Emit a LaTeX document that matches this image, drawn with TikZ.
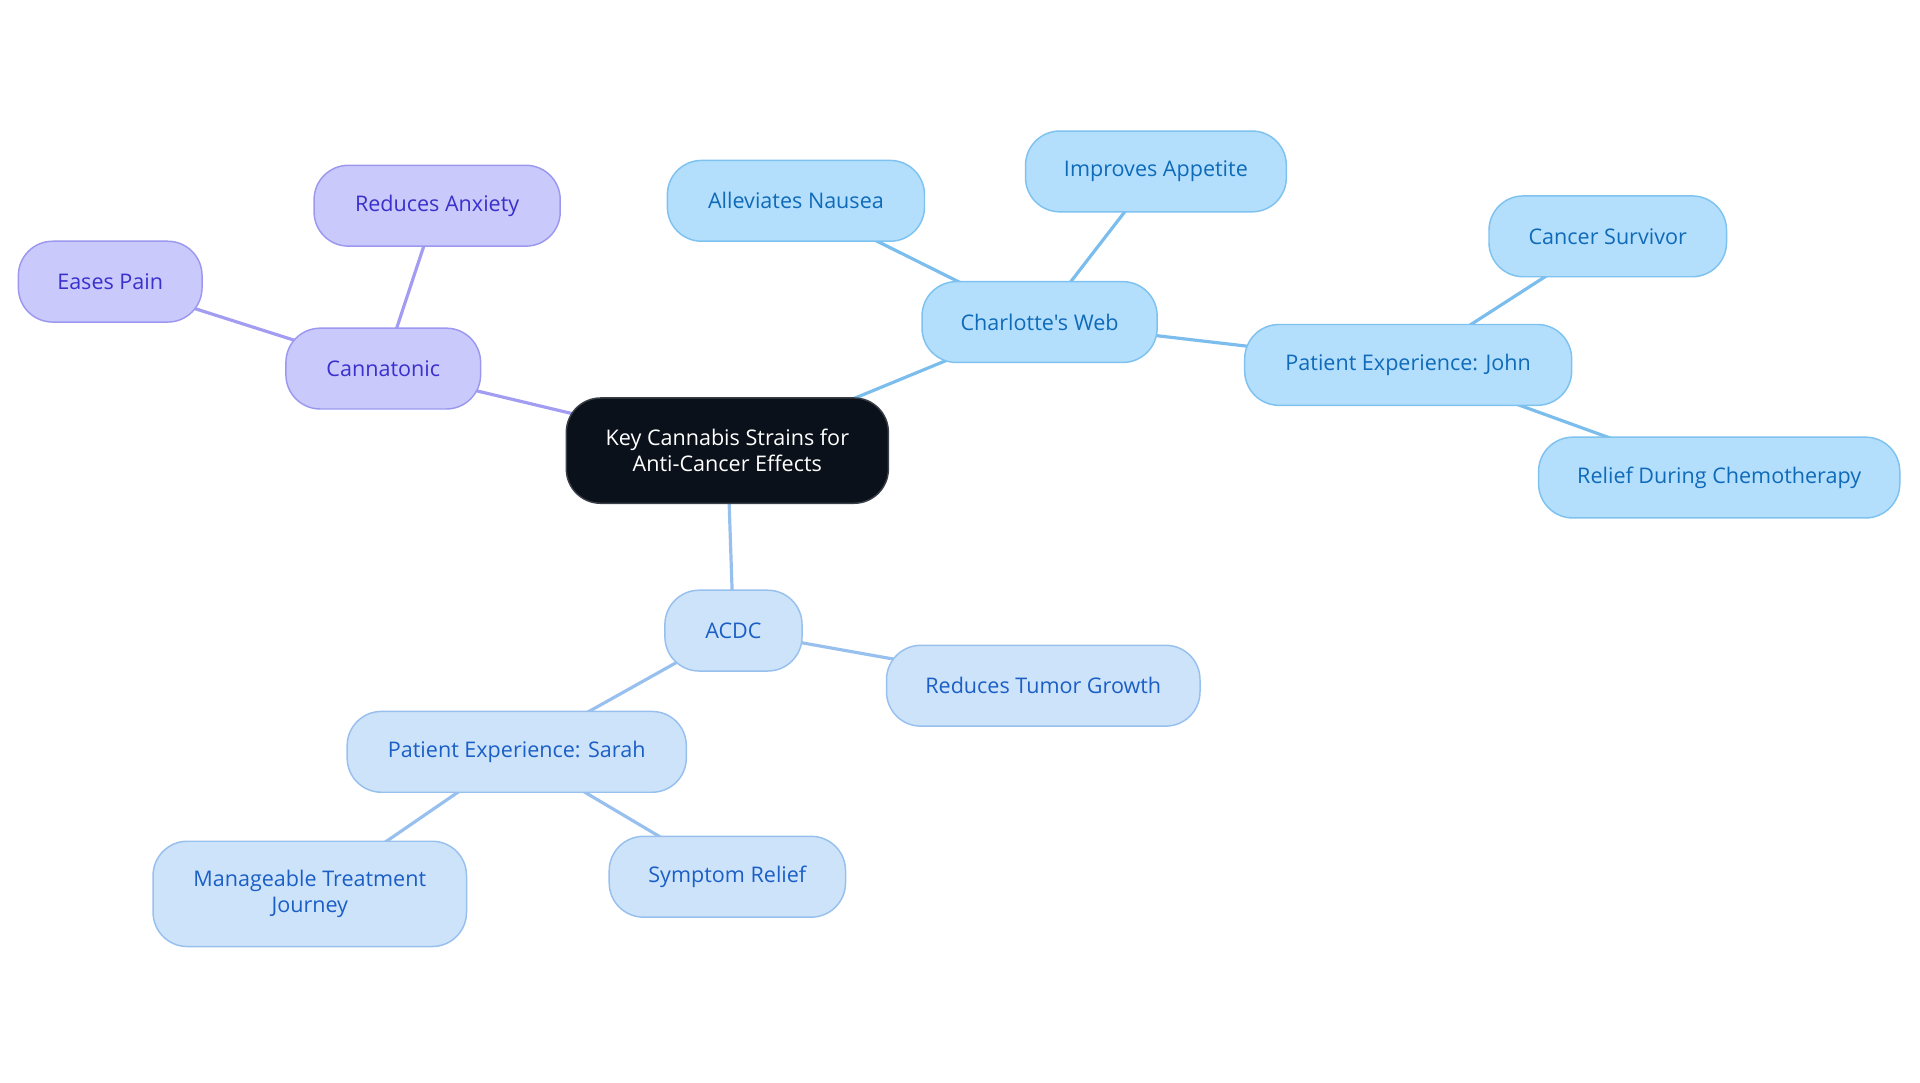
\documentclass[tikz,border=0pt]{standalone}
\usepackage{fontspec}
\setmainfont{Open Sans}[Ligatures=TeXOff]
\usetikzlibrary{backgrounds}
\definecolor{rootfill}{HTML}{0B111A}
\definecolor{rootdraw}{HTML}{3A3F47}
\definecolor{pfill}{HTML}{C9C9FB}
\definecolor{pdraw}{HTML}{9C98F0}
\definecolor{ptext}{HTML}{3A30CC}
\definecolor{pline}{HTML}{A39CF3}
\definecolor{bfill}{HTML}{B3DFFD}
\definecolor{bdraw}{HTML}{7EC2F0}
\definecolor{btext}{HTML}{0F6AB8}
\definecolor{bline}{HTML}{7BBDEC}
\definecolor{cfill}{HTML}{CDE3FA}
\definecolor{cdraw}{HTML}{98C0EE}
\definecolor{ctext}{HTML}{1B5FC6}
\definecolor{cline}{HTML}{98C0EE}
\tikzset{
  box/.style={rectangle, rounded corners=14pt, line width=0.6pt, align=center,
    minimum height=33pt, inner sep=0pt, font=\fontsize{8.8}{10.5}\selectfont},
  rootbox/.style={box, fill=rootfill, draw=rootdraw, text=white, minimum height=43pt},
  pbox/.style={box, fill=pfill, draw=pdraw, text=ptext},
  bbox/.style={box, fill=bfill, draw=bdraw, text=btext},
  cbox/.style={box, fill=cfill, draw=cdraw, text=ctext},
  link/.style={line width=1.3pt}
}
\begin{document}
\begin{tikzpicture}[x=0.5pt,y=-0.5pt]
\useasboundingbox (0,0) rectangle (1568,884.4);
\node[rootbox, minimum width=131.5pt] (root) at (594,368) {Key Cannabis Strains for\\Anti-Cancer Effects};
% Cannatonic
\node[pbox, minimum width=79.5pt] (cann) at (313,301) {Cannatonic};
\node[pbox, minimum width=100.5pt] (anx) at (357,168) {Reduces Anxiety};
\node[pbox, minimum width=75pt] (pain) at (90,230) {Eases Pain};
% Charlotte's Web
\node[bbox, minimum width=96pt] (cw) at (849,263) {Charlotte's Web};
\node[bbox, minimum width=105pt] (naus) at (650,164) {Alleviates Nausea};
\node[bbox, minimum width=106.5pt] (app) at (944,140) {Improves Appetite};
\node[bbox, minimum width=133.5pt] (john) at (1150,298) {Patient Experience: John};
\node[bbox, minimum width=97pt] (surv) at (1313,193) {Cancer Survivor};
\node[bbox, minimum width=147.5pt] (chemo) at (1404,390) {Relief During Chemotherapy};
% ACDC
\node[cbox, minimum width=56pt] (acdc) at (599,515) {ACDC};
\node[cbox, minimum width=128pt] (tumor) at (852,560) {Reduces Tumor Growth};
\node[cbox, minimum width=138.5pt] (sarah) at (422,614) {Patient Experience: Sarah};
\node[cbox, minimum width=128pt, minimum height=43pt] (journey) at (253,730) {Manageable Treatment\\Journey};
\node[cbox, minimum width=96.5pt] (symp) at (594,716) {Symptom Relief};
\begin{scope}[on background layer]
\draw[link, pline] (root.center) -- (cann.center);
\draw[link, pline] (cann.center) -- (anx.center);
\draw[link, pline] (cann.center) -- (pain.center);
\draw[link, bline] (root.center) -- (cw.center);
\draw[link, bline] (cw.center) -- (naus.center);
\draw[link, bline] (cw.center) -- (app.center);
\draw[link, bline] (cw.center) -- (john.center);
\draw[link, bline] (john.center) -- (surv.center);
\draw[link, bline] (john.center) -- (chemo.center);
\draw[link, cline] (root.center) -- (acdc.center);
\draw[link, cline] (acdc.center) -- (tumor.center);
\draw[link, cline] (acdc.center) -- (sarah.center);
\draw[link, cline] (sarah.center) -- (journey.center);
\draw[link, cline] (sarah.center) -- (symp.center);
\end{scope}
\end{tikzpicture}
\end{document}
